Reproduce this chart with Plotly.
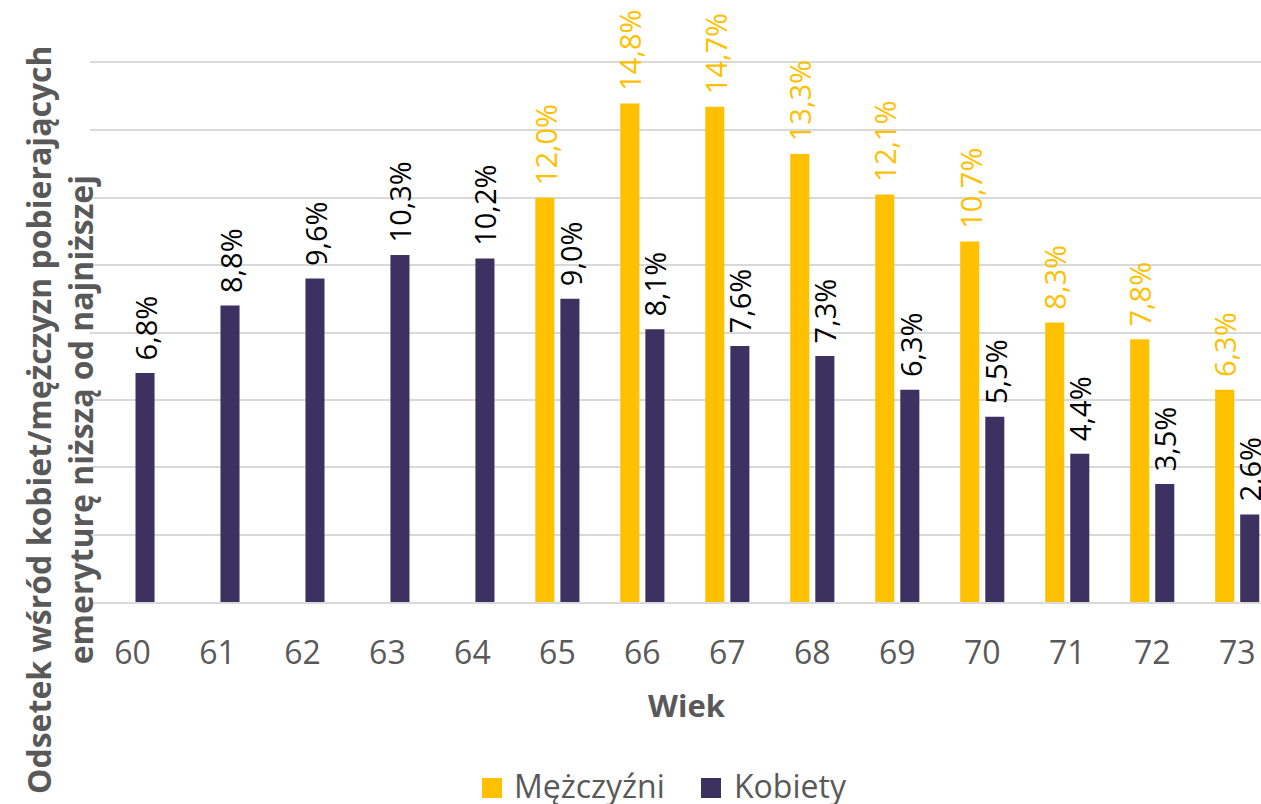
import plotly.graph_objects as go

# Age groups and share (%) of pensioners receiving less than the minimum pension
ages = ["60", "61", "62", "63", "64", "65", "66", "67", "68", "69", "70", "71", "72", "73"]
men = [None, None, None, None, None, 12.0, 14.8, 14.7, 13.3, 12.1, 10.7, 8.3, 7.8, 6.3]
women = [6.8, 8.8, 9.6, 10.3, 10.2, 9.0, 8.1, 7.6, 7.3, 6.3, 5.5, 4.4, 3.5, 2.6]

men_name = "Mężczyźni"
women_name = "Kobiety"
y_title = "Odsetek wśród kobiet/mężczyzn pobierających<br>emeryturę niższą od najniższej"
x_title = "Wiek"

YELLOW = "#FFC000"
PURPLE = "#3D3161"
GREY = "#595959"
GRID = "#D9D9D9"
FONT = "Open Sans"

W, H = 1261, 804
L, R, T, B = 90, 0, 63, 202
pw, ph = W - L - R, H - T - B


def px_x(px):
    return (px - L) / pw


def px_y(py):
    return (H - B - py) / ph


def fmt(v):
    return f"{v:.1f}".replace(".", ",") + "%"


fig = go.Figure()
fig.add_bar(x=ages, y=men, name=men_name, marker=dict(color=YELLOW, line=dict(width=0)))
fig.add_bar(x=ages, y=women, name=women_name, marker=dict(color=PURPLE, line=dict(width=0)))

annotations = []
slot = 12.5  # half distance between paired bar centres, px
for i, (m, w) in enumerate(zip(men, women)):
    for val, shift, col in ((m, -slot, YELLOW), (w, slot, "#000000")):
        if val is None:
            continue
        annotations.append(dict(
            x=i, y=val, xref="x", yref="y", text=fmt(val), showarrow=False,
            textangle=-90, xanchor="center", yanchor="bottom", xshift=shift, yshift=11,
            font=dict(family=FONT, size=29, color=col),
        ))

# axis titles
annotations.append(dict(
    x=px_x(59), y=px_y(420), xref="paper", yref="paper", text=y_title, showarrow=False,
    textangle=-90, xanchor="center", yanchor="middle",
    font=dict(family=FONT, size=32, color=GREY, weight="bold"),
))
annotations.append(dict(
    x=px_x(687), y=px_y(705), xref="paper", yref="paper", text=x_title, showarrow=False,
    xanchor="center", yanchor="middle",
    font=dict(family=FONT, size=31, color=GREY, weight="bold"),
))

# legend drawn as swatches + labels
shapes = []
for (x0, x1, tx, label, col) in ((482, 502, 512, men_name, YELLOW), (701, 721, 732, women_name, PURPLE)):
    shapes.append(dict(type="rect", xref="paper", yref="paper",
                       x0=px_x(x0), x1=px_x(x1), y0=px_y(798), y1=px_y(778),
                       fillcolor=col, line=dict(width=0)))
    annotations.append(dict(
        x=px_x(tx), y=px_y(785), xref="paper", yref="paper", text=label, showarrow=False,
        xanchor="left", yanchor="middle",
        font=dict(family=FONT, size=32, color=GREY),
    ))

fig.update_layout(
    width=W, height=H,
    margin=dict(l=L, r=R, t=T, b=B),
    paper_bgcolor="white", plot_bgcolor="white",
    barmode="group", bargap=0.41, bargroupgap=0.24,
    showlegend=False,
    font=dict(family=FONT, color=GREY),
    annotations=annotations, shapes=shapes,
)
fig.update_xaxes(
    type="category", range=[-0.5, 13.28],
    showgrid=False, zeroline=False,
    showline=True, linecolor=GRID, linewidth=2, mirror=True,
    ticks="", ticklabelstandoff=22,
    tickfont=dict(family=FONT, size=32, color=GREY),
)
fig.update_yaxes(
    range=[0, 16], tick0=0, dtick=2,
    showgrid=True, gridcolor=GRID, gridwidth=2,
    showticklabels=False, zeroline=False, showline=False,
)

fig.write_html("out.html")
